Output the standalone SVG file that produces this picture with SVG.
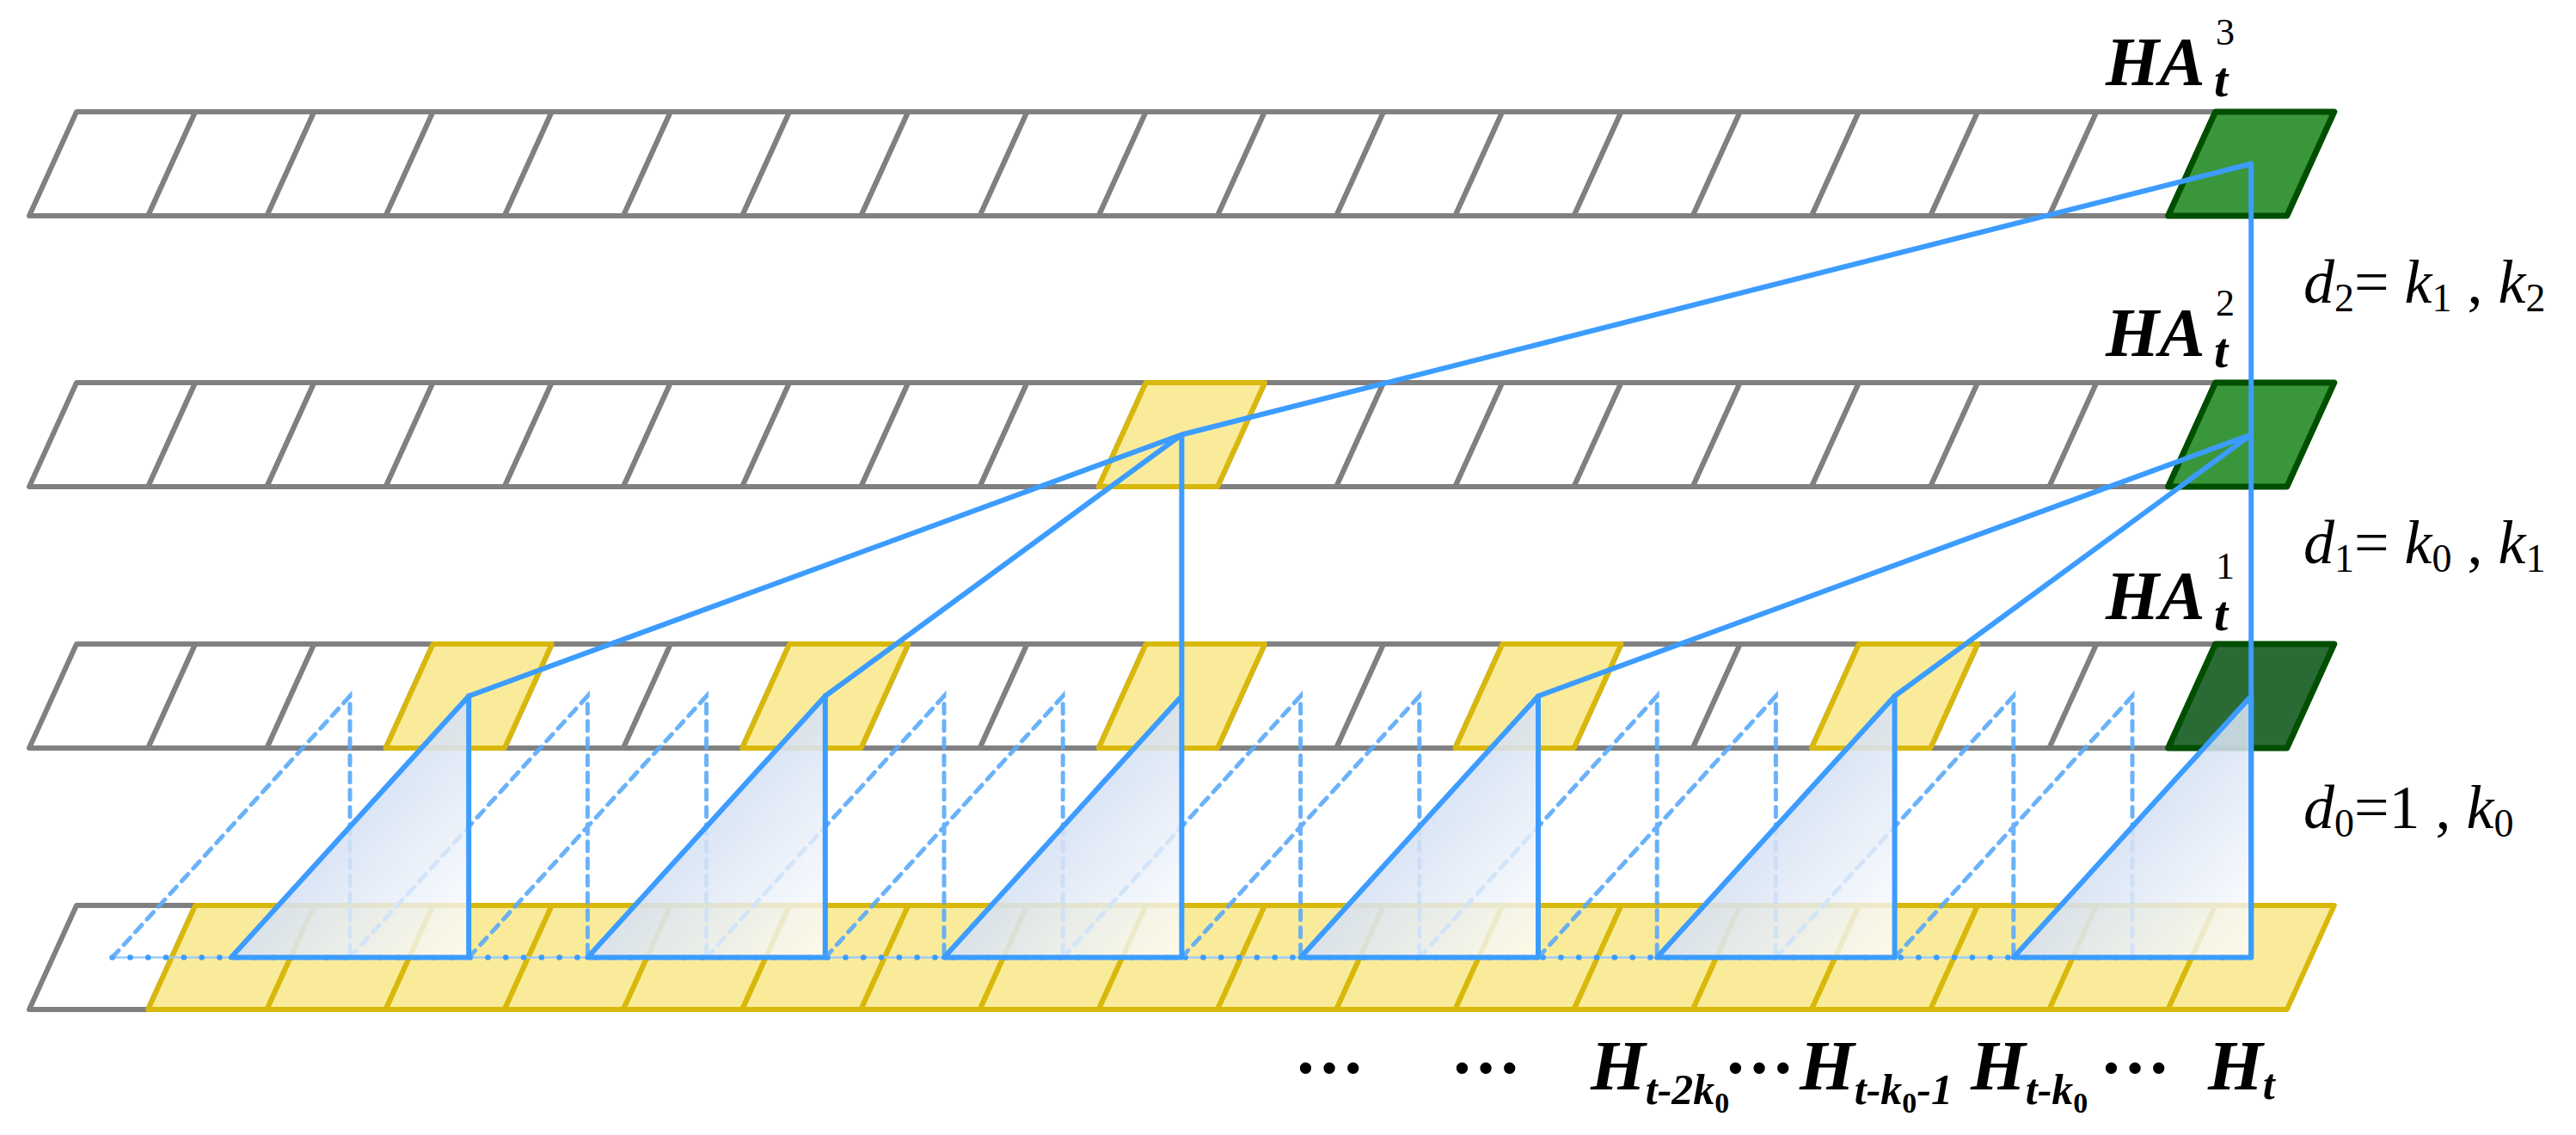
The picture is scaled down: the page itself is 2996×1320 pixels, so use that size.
<svg xmlns="http://www.w3.org/2000/svg" width="2996" height="1320" viewBox="0 0 2996 1320">
<defs>
<polygon id="cell" points="0,121 138.2,121 193.2,0 55,0"/>
<linearGradient id="tg" x1="0" y1="0" x2="1" y2="1">
<stop offset="0.35" stop-color="#C9D8F0" stop-opacity="0.92"/>
<stop offset="1" stop-color="#FFFFFF" stop-opacity="0.75"/>
</linearGradient>
</defs>
<style>
.w{fill:#fff;stroke:#808080;stroke-width:6;stroke-linejoin:round}
.y{fill:#FAEB9B;stroke:#D9B80C;stroke-width:6;stroke-linejoin:round}
.g{fill:#3A963A;stroke:#004F00;stroke-width:7;stroke-linejoin:round}
.g1{fill:#2A6A34;stroke:#004F00;stroke-width:7;stroke-linejoin:round}
.ln{fill:none;stroke:#3C9CFF;stroke-width:6;stroke-linejoin:round;stroke-linecap:round}
.tri{fill:url(#tg);stroke:#3C9CFF;stroke-width:6;stroke-linejoin:round}
.ds{fill:none;stroke:#5AAAF8;stroke-width:5;stroke-dasharray:11 9;stroke-linecap:round;opacity:.9}
.dl{fill:none;stroke:#9CCBFF;stroke-width:2.5}
.dd{fill:none;stroke:#3C9CFF;stroke-width:6.5;stroke-dasharray:0.1 20.7;stroke-linecap:round}
.hb{font-family:"Liberation Serif","Times New Roman",serif;font-weight:bold;font-style:italic;fill:#000}
.sp{font-family:"Liberation Serif","Times New Roman",serif;fill:#000}
.it{font-style:italic}
</style>
<rect width="2996" height="1320" fill="#fff"/>

<g id="row1">
<use href="#cell" x="34" y="130" class="w"/><use href="#cell" x="172.2" y="130" class="w"/><use href="#cell" x="310.4" y="130" class="w"/><use href="#cell" x="448.6" y="130" class="w"/><use href="#cell" x="586.8" y="130" class="w"/><use href="#cell" x="725" y="130" class="w"/><use href="#cell" x="863.2" y="130" class="w"/><use href="#cell" x="1001.4" y="130" class="w"/><use href="#cell" x="1139.6" y="130" class="w"/><use href="#cell" x="1277.8" y="130" class="w"/><use href="#cell" x="1416" y="130" class="w"/><use href="#cell" x="1554.2" y="130" class="w"/><use href="#cell" x="1692.4" y="130" class="w"/><use href="#cell" x="1830.6" y="130" class="w"/><use href="#cell" x="1968.8" y="130" class="w"/><use href="#cell" x="2107" y="130" class="w"/><use href="#cell" x="2245.2" y="130" class="w"/><use href="#cell" x="2383.4" y="130" class="w"/>
<use id="HA3" href="#cell" x="2521.6" y="130" class="g"/>
</g>

<g id="row2">
<use href="#cell" x="34" y="445" class="w"/><use href="#cell" x="172.2" y="445" class="w"/><use href="#cell" x="310.4" y="445" class="w"/><use href="#cell" x="448.6" y="445" class="w"/><use href="#cell" x="586.8" y="445" class="w"/><use href="#cell" x="725" y="445" class="w"/><use href="#cell" x="863.2" y="445" class="w"/><use href="#cell" x="1001.4" y="445" class="w"/><use href="#cell" x="1139.6" y="445" class="w"/><use href="#cell" x="1416" y="445" class="w"/><use href="#cell" x="1554.2" y="445" class="w"/><use href="#cell" x="1692.4" y="445" class="w"/><use href="#cell" x="1830.6" y="445" class="w"/><use href="#cell" x="1968.8" y="445" class="w"/><use href="#cell" x="2107" y="445" class="w"/><use href="#cell" x="2245.2" y="445" class="w"/><use href="#cell" x="2383.4" y="445" class="w"/>
<use id="r2c9" href="#cell" x="1277.8" y="445" class="y"/>
<use id="HA2" href="#cell" x="2521.6" y="445" class="g"/>
</g>

<g id="row3">
<use href="#cell" x="34" y="749" class="w"/><use href="#cell" x="172.2" y="749" class="w"/><use href="#cell" x="310.4" y="749" class="w"/><use href="#cell" x="586.8" y="749" class="w"/><use href="#cell" x="725" y="749" class="w"/><use href="#cell" x="1001.4" y="749" class="w"/><use href="#cell" x="1139.6" y="749" class="w"/><use href="#cell" x="1416" y="749" class="w"/><use href="#cell" x="1554.2" y="749" class="w"/><use href="#cell" x="1830.6" y="749" class="w"/><use href="#cell" x="1968.8" y="749" class="w"/><use href="#cell" x="2245.2" y="749" class="w"/><use href="#cell" x="2383.4" y="749" class="w"/>
<use id="r3c3" href="#cell" x="448.6" y="749" class="y"/>
<use id="r3c6" href="#cell" x="863.2" y="749" class="y"/>
<use id="r3c9" href="#cell" x="1277.8" y="749" class="y"/>
<use id="r3c12" href="#cell" x="1692.4" y="749" class="y"/>
<use id="r3c15" href="#cell" x="2107" y="749" class="y"/>
<use id="HA1" href="#cell" x="2521.6" y="749" class="g1"/>
</g>

<g id="row4">
<use href="#cell" x="34" y="1053" class="w"/>
<use href="#cell" x="172.2" y="1053" class="y"/><use href="#cell" x="310.4" y="1053" class="y"/><use href="#cell" x="448.6" y="1053" class="y"/><use href="#cell" x="586.8" y="1053" class="y"/><use href="#cell" x="725" y="1053" class="y"/><use href="#cell" x="863.2" y="1053" class="y"/><use href="#cell" x="1001.4" y="1053" class="y"/><use href="#cell" x="1139.6" y="1053" class="y"/><use href="#cell" x="1277.8" y="1053" class="y"/><use href="#cell" x="1416" y="1053" class="y"/><use href="#cell" x="1554.2" y="1053" class="y"/><use href="#cell" x="1692.4" y="1053" class="y"/><use href="#cell" x="1830.6" y="1053" class="y"/><use href="#cell" x="1968.8" y="1053" class="y"/><use href="#cell" x="2107" y="1053" class="y"/><use href="#cell" x="2245.2" y="1053" class="y"/><use href="#cell" x="2383.4" y="1053" class="y"/><use href="#cell" x="2521.6" y="1053" class="y"/>
</g>

<g id="connectors">
<line class="dl" x1="130.6" y1="1113.5" x2="2618.2" y2="1113.5"/>
<line class="dd" x1="130.6" y1="1113.5" x2="2618.2" y2="1113.5"/>
<path class="ds" d="M130.6,1113.5L407,809.5V1113.5 M407,1113.5L683.4,809.5V1113.5 M545.2,1113.5L821.6,809.5V1113.5 M821.6,1113.5L1098,809.5V1113.5 M959.8,1113.5L1236.2,809.5V1113.5 M1236.2,1113.5L1512.6,809.5V1113.5 M1374.4,1113.5L1650.8,809.5V1113.5 M1650.8,1113.5L1927.2,809.5V1113.5 M1789,1113.5L2065.4,809.5V1113.5 M2065.4,1113.5L2341.8,809.5V1113.5 M2203.6,1113.5L2480,809.5V1113.5"/>
<path class="tri" d="M268.8,1113.5L545.2,809.5V1113.5Z"/>
<path class="tri" d="M683.4,1113.5L959.8,809.5V1113.5Z"/>
<path class="tri" d="M1098,1113.5L1374.4,809.5V1113.5Z"/>
<path class="tri" d="M1512.6,1113.5L1789,809.5V1113.5Z"/>
<path class="tri" d="M1927.2,1113.5L2203.6,809.5V1113.5Z"/>
<path class="tri" d="M2341.8,1113.5L2618.2,809.5V1113.5Z"/>
<path class="ln" d="M2618.2,190.5V1113.5 M2618.2,190.5L1374.4,505.5V809.5 M545.2,809.5L1374.4,505.5L959.8,809.5 M1789,809.5L2618.2,505.5L2203.6,809.5"/>
</g>

<g id="labels">
<text class="hb" x="2449" y="99" font-size="80">HA</text>
<text class="sp" x="2577" y="52" font-size="44">3</text>
<text class="hb" x="2575" y="112" font-size="58">t</text>

<text class="hb" x="2449" y="414" font-size="80">HA</text>
<text class="sp" x="2577" y="367" font-size="44">2</text>
<text class="hb" x="2575" y="427" font-size="58">t</text>

<text class="hb" x="2449" y="720" font-size="80">HA</text>
<text class="sp" x="2577" y="673" font-size="44">1</text>
<text class="hb" x="2575" y="733" font-size="58">t</text>

<text class="sp" x="2679" y="352" font-size="72"><tspan class="it">d</tspan><tspan font-size="46" dy="10">2</tspan><tspan dy="-10">= </tspan><tspan class="it">k</tspan><tspan font-size="46" dy="10">1</tspan><tspan dy="-10"> , </tspan><tspan class="it">k</tspan><tspan font-size="46" dy="10">2</tspan></text>
<text class="sp" x="2679" y="655" font-size="72"><tspan class="it">d</tspan><tspan font-size="46" dy="10">1</tspan><tspan dy="-10">= </tspan><tspan class="it">k</tspan><tspan font-size="46" dy="10">0</tspan><tspan dy="-10"> , </tspan><tspan class="it">k</tspan><tspan font-size="46" dy="10">1</tspan></text>
<text class="sp" x="2679" y="963" font-size="72"><tspan class="it">d</tspan><tspan font-size="46" dy="10">0</tspan><tspan dy="-10">=1 , </tspan><tspan class="it">k</tspan><tspan font-size="46" dy="10">0</tspan></text>

<text class="sp" font-weight="bold" font-size="82" x="1546" y="1248" text-anchor="middle">…</text>
<text class="sp" font-weight="bold" font-size="82" x="1728" y="1248" text-anchor="middle">…</text>
<text class="hb" x="1850" y="1267" font-size="82">H<tspan font-size="50" dy="17">t-2k</tspan><tspan font-size="34" font-style="normal" dy="10">0</tspan></text>
<text class="sp" font-weight="bold" font-size="82" x="2046" y="1248" text-anchor="middle">…</text>
<text class="hb" x="2093" y="1267" font-size="82">H<tspan font-size="50" dy="17">t-k</tspan><tspan font-size="34" font-style="normal" dy="10">0</tspan><tspan font-size="50" dy="-10">-1</tspan></text>
<text class="hb" x="2292" y="1267" font-size="82">H<tspan font-size="50" dy="17">t-k</tspan><tspan font-size="34" font-style="normal" dy="10">0</tspan></text>
<text class="sp" font-weight="bold" font-size="82" x="2483" y="1248" text-anchor="middle">…</text>
<text class="hb" x="2568" y="1267" font-size="82">H<tspan font-size="50" dy="11">t</tspan></text>
</g>
</svg>
